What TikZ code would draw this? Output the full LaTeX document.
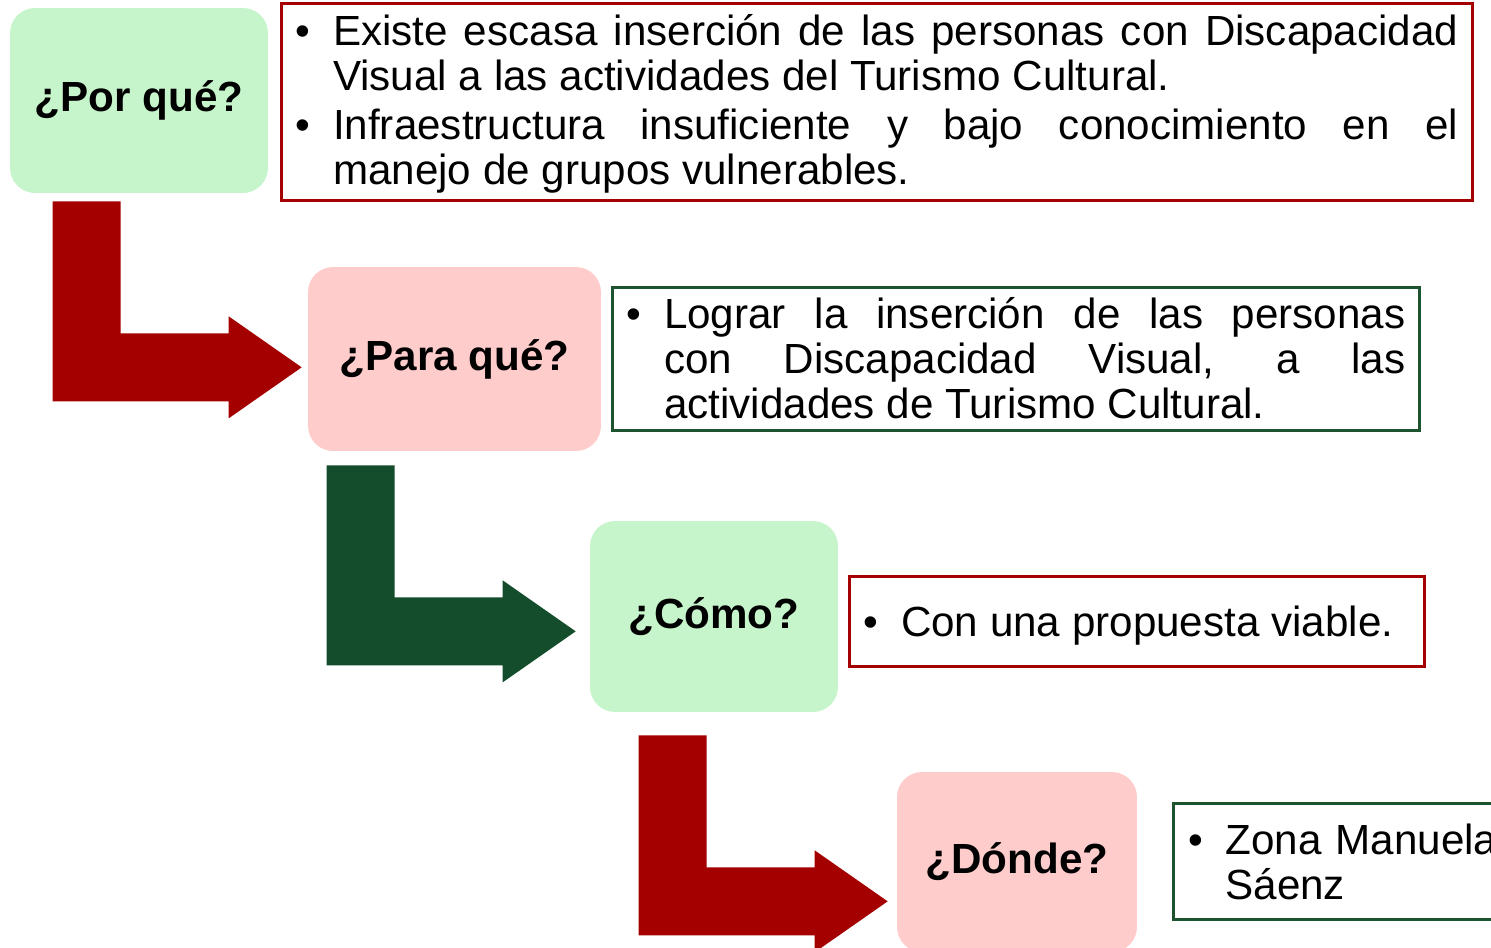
\documentclass[tikz,border=0pt]{standalone}
\usepackage{fontspec}
\setmainfont{Liberation Sans}
\usetikzlibrary{positioning,calc}

\definecolor{mintgreen}{HTML}{C6F4CB}
\definecolor{rosepink}{HTML}{FFCCCC}
\definecolor{darkred}{HTML}{A50000}
\definecolor{forest}{HTML}{134D2B}
\definecolor{framegreen}{HTML}{1C5430}

\hyphenpenalty=10000
\exhyphenpenalty=10000
\tolerance=9999

% bullet item with hanging indent
\newcommand{\bitem}[1]{\par\noindent\hangindent=0.75cm\hangafter=1\makebox[0.75cm][l]{\textbullet}#1\par}

\begin{document}
\begin{tikzpicture}[
    x=0.02cm, y=-0.02cm,
    ask/.style={rectangle, rounded corners=0.5cm, text centered, font=\fontsize{24}{28}\selectfont\bfseries},
    info/.style={rectangle, draw, line width=0.06cm, inner xsep=0.29cm, inner ysep=0pt, align=justify, font=\fontsize{24}{25.5}\selectfont},
    bentarrow/.pic={
        \path[pic actions] (0,0) -- (68,0) -- (68,132) -- (176,132) -- (176,115) -- (249,166)
            -- (176,217) -- (176,200) -- (0,200) -- cycle;
    }
]
\useasboundingbox (0,0) rectangle (1491,947);
\clip (0,0) rectangle (1491,947);

% question boxes
\node (porque) [ask, fill=mintgreen, minimum width=5.16cm, minimum height=3.7cm] at (139,100.5) {¿Por qué?};
\node (paraque) [ask, fill=rosepink, minimum width=5.86cm, minimum height=3.68cm] at (454.5,359) {¿Para qué?};
\node (como) [ask, fill=mintgreen, minimum width=4.96cm, minimum height=3.82cm] at (714,616.5) {¿Cómo?};
\node (donde) [ask, fill=rosepink, minimum width=4.8cm, minimum height=3.6cm] at (1017,862) {¿Dónde?};

% answer boxes
\node (why) [info, draw=darkred, text width=23.26cm, minimum height=3.94cm] at (877,102) {%
\vspace*{-0.2cm}
\bitem{Existe escasa inserción de las personas con Discapacidad Visual a las actividades del Turismo Cultural.}\vspace{0.1cm}
\bitem{Infraestructura insuficiente y bajo conocimiento en el\linebreak manejo de grupos vulnerables.}};
\node (goal) [info, draw=framegreen, text width=15.58cm, minimum height=2.86cm] at (1016,359) {%
\vspace*{-0.32cm}
\bitem{Lograr la inserción de las personas\linebreak con Discapacidad Visual, a las actividades de Turismo Cultural.}};
\node (how) [info, draw=darkred, text width=10.94cm, minimum height=1.8cm] at (1137,621.5) {%
\vspace*{-0.12cm}
\bitem{Con una propuesta viable.}};
\node (where) [info, draw=framegreen, text width=7.02cm, minimum height=2.32cm, anchor=west, align=left] at (1172,861.5) {%
\vspace*{-0.26cm}
\bitem{Zona Manuela Sáenz}};

% bent arrows
\pic[fill=darkred] at ($(porque.south west)+(43,8)$) {bentarrow};
\pic[fill=forest] at ($(paraque.south west)+(19,14)$) {bentarrow};
\pic[fill=darkred] at ($(como.south west)+(49,23)$) {bentarrow};

\end{tikzpicture}
\end{document}
